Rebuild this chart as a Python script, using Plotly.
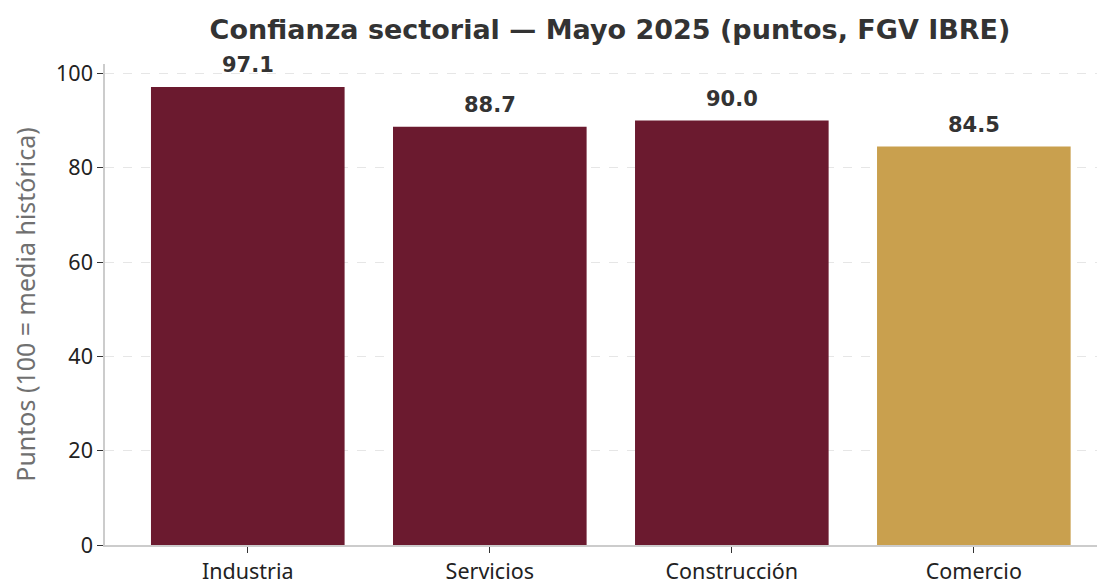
import plotly.graph_objects as go

categories = ["Industria", "Servicios", "Construcción", "Comercio"]
values = [97.1, 88.7, 90.0, 84.5]
colors = ["#6B1A2F", "#6B1A2F", "#6B1A2F", "#C9A04E"]
labels = ["97.1", "88.7", "90.0", "84.5"]
y_ticks = [0, 20, 40, 60, 80, 100]

BOLD = "DejaVu Sans"
REG = "Noto Sans"

fig = go.Figure()
fig.add_trace(go.Bar(
    x=list(range(len(categories))),
    y=values,
    marker=dict(color=colors, line=dict(width=0)),
    width=0.8,
    hoverinfo="skip",
))

for i, (v, t) in enumerate(zip(values, labels)):
    fig.add_annotation(
        x=i, y=v, text="<b>" + t + "</b>",
        showarrow=False, yanchor="bottom", yshift=8,
        font=dict(family=BOLD, size=21, color="#333333"),
    )

fig.update_layout(
    width=1105, height=585,
    margin=dict(l=97, r=0, t=56, b=48),
    paper_bgcolor="white", plot_bgcolor="white",
    showlegend=False,
    title=dict(
        text="<b>Confianza sectorial — Mayo 2025 (puntos, FGV IBRE)</b>",
        x=602 / 1105, xanchor="center",
        y=1 - 22 / 585, yanchor="middle",
        font=dict(family=BOLD, size=27, color="#333333"),
    ),
    font=dict(family=REG, size=18, color="#222222"),
)

fig.update_xaxes(
    range=[-0.59, 3.575],
    tickmode="array",
    tickvals=list(range(len(categories))),
    ticktext=categories,
    ticks="outside", ticklen=6, tickcolor="#333333", tickwidth=1.2,
    showline=True, linecolor="#cccccc", linewidth=1.5,
    showgrid=False, zeroline=False,
    tickfont=dict(family=REG, size=21.5, color="#222222"),
)
fig.update_yaxes(
    range=[0, 102],
    tickmode="array", tickvals=y_ticks,
    ticks="outside", ticklen=6, tickcolor="#333333", tickwidth=1.2,
    showline=True, linecolor="#cccccc", linewidth=1.5,
    showgrid=True, gridcolor="#e6e6e6", griddash="dash", gridwidth=1,
    zeroline=False,
    tickfont=dict(family=REG, size=21.5, color="#222222"),
    title=dict(text="Puntos (100 = media histórica)",
               font=dict(family=REG, size=25, color="#707070"), standoff=17),
)

fig.write_html("out.html")
